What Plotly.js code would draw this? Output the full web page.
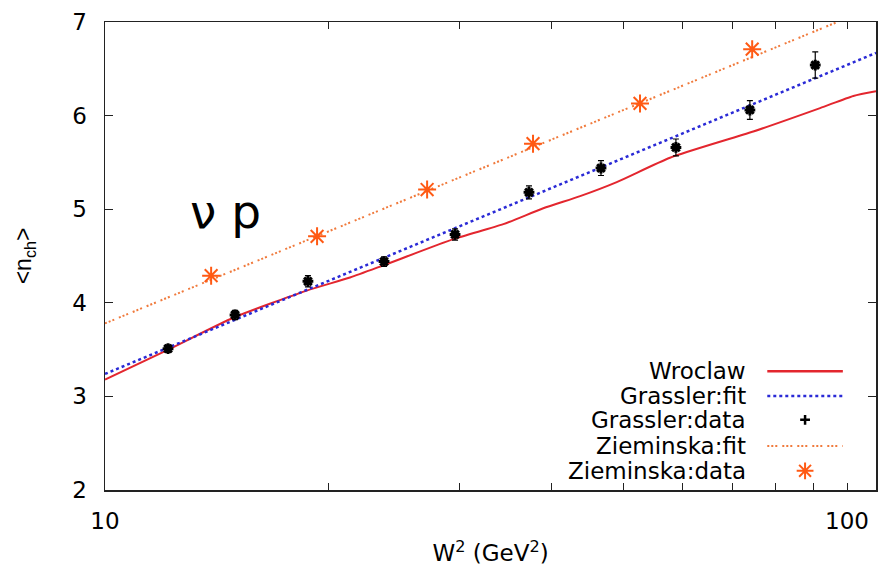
<!DOCTYPE html>
<html>
<head>
<meta charset="utf-8">
<script src="https://cdn.plot.ly/plotly-3.0.1.min.js"></script>
<style>html,body{margin:0;padding:0;background:#fff;}#chart{width:878px;height:571px;}</style>
</head>
<body>
<div id="chart"></div>
<script>
// ---- data ----
const wroclawW2 = [10.0, 12.17, 14.89, 18.70, 21.39, 23.72, 29.48, 34.42, 38.96, 43.68, 48.94, 57.73, 74.76, 91.97, 101.97, 109.4];
const wroclawN  = [3.18, 3.50, 3.84, 4.13, 4.27, 4.40, 4.68, 4.84, 5.01, 5.14, 5.29, 5.55, 5.83, 6.08, 6.21, 6.26];

const grasslerFitW2 = [10.0, 109.4];
const grasslerFitN  = [3.24, 6.67];

const grasslerW2  = [12.16, 14.97, 18.77, 23.77, 29.63, 37.27, 46.6, 58.8, 73.97, 90.6];
const grasslerN   = [3.51, 3.87, 4.23, 4.44, 4.73, 5.18, 5.44, 5.66, 6.06, 6.54];
const grasslerErr = [0.04, 0.05, 0.06, 0.05, 0.06, 0.07, 0.08, 0.09, 0.10, 0.14];

const zieminskaFitW2 = [10.0, 109.4];
const zieminskaFitN  = [3.78, 7.17];

const zieminskaW2 = [13.9, 19.31, 27.17, 37.74, 52.6, 74.5];
const zieminskaN  = [4.29, 4.71, 5.21, 5.70, 6.13, 6.71];

const xTickVals   = [10, 20, 30, 40, 50, 60, 70, 80, 90, 100];
const xTickText   = ['10', '', '', '', '', '', '', '', '', '100'];
const yTickVals   = [2, 3, 4, 5, 6, 7];

const legendNames = ['Wroclaw', 'Grassler:fit', 'Grassler:data', 'Zieminska:fit', 'Zieminska:data'];

// ---- styles ----
const FONT = 'DejaVu Sans, Liberation Sans, Arial, sans-serif';
const FONT2 = 'Liberation Sans, Arial, Helvetica, sans-serif';
const RED = '#e3262e', BLUE = '#2a2ad6', BLACK = '#000000', ORANGE = '#ff5a14', ORANGEFIT = '#f07a3c';
const ZDASH = '2px,2px,2px,2px,2px,5px';

const traces = [
  {x: wroclawW2, y: wroclawN, mode: 'lines', line: {color: RED, width: 2, shape: 'spline', smoothing: 0.6}, showlegend: false},
  {x: grasslerFitW2, y: grasslerFitN, mode: 'lines', line: {color: BLUE, width: 2.5, dash: 'dot'}, showlegend: false},
  {x: zieminskaFitW2, y: zieminskaFitN, mode: 'lines', line: {color: ORANGEFIT, width: 2, dash: ZDASH}, showlegend: false},
  {x: grasslerW2, y: grasslerN, mode: 'markers',
   error_y: {type: 'data', array: grasslerErr, visible: true, color: BLACK, thickness: 1.2, width: 3},
   marker: {symbol: 'asterisk-open', size: 9, color: BLACK, line: {color: BLACK, width: 3}}, showlegend: false},
  {x: zieminskaW2, y: zieminskaN, mode: 'markers',
   marker: {symbol: 'asterisk-open', size: 15, color: ORANGE, line: {color: ORANGE, width: 2}}, showlegend: false}
];

// ---- custom legend (text left of sample, as in the reference) ----
const legX0 = 0.859, legX1 = 0.957, legXm = 0.908, legTextX = 0.834;
const legY = [0.254, 0.201, 0.150, 0.094, 0.041];
const sampleStyles = [
  {mode: 'lines', line: {color: RED, width: 2.5}},
  {mode: 'lines', line: {color: BLUE, width: 2.5, dash: 'dot'}},
  {mode: 'markers', marker: {symbol: 'cross-thin-open', size: 7, color: BLACK, line: {color: BLACK, width: 2.5}}},
  {mode: 'lines', line: {color: ORANGEFIT, width: 2, dash: ZDASH}},
  {mode: 'markers', marker: {symbol: 'asterisk-open', size: 14, color: ORANGE, line: {color: ORANGE, width: 2}}}
];
const annotations = [];
legendNames.forEach((name, i) => {
  const s = sampleStyles[i];
  const t = Object.assign({xaxis: 'x2', yaxis: 'y2', showlegend: false}, s);
  if (s.mode === 'lines') { t.x = [legX0, legX1]; t.y = [legY[i], legY[i]]; }
  else { t.x = [legXm]; t.y = [legY[i]]; }
  traces.push(t);
  annotations.push({xref: 'paper', yref: 'paper', x: legTextX, y: legY[i], xanchor: 'right', yanchor: 'middle',
    text: name, showarrow: false, font: {family: FONT, size: 23, color: '#000'}});
});
annotations.push({xref: 'paper', yref: 'paper', x: 0.108, y: 0.596, xanchor: 'left', yanchor: 'middle',
  text: 'ν p', showarrow: false, font: {family: FONT, size: 47, color: '#000'}});

const layout = {
  width: 878, height: 571,
  margin: {l: 105, r: 2, t: 22, b: 81},
  paper_bgcolor: '#fff', plot_bgcolor: '#fff',
  showlegend: false,
  font: {family: FONT, color: '#000'},
  xaxis: {
    type: 'log', range: [1, 2.039],
    tickvals: xTickVals, ticktext: xTickText,
    ticks: 'inside', ticklen: 7, tickwidth: 1, tickcolor: '#222',
    mirror: 'ticks', showline: true, linecolor: '#222', linewidth: 1.5,
    showgrid: false, zeroline: false,
    tickfont: {family: FONT, size: 23, color: '#000'},
    ticklabelstandoff: 10,
    title: {text: 'W<sup>2</sup> (GeV<sup>2</sup>)', font: {family: FONT, size: 23, color: '#000'}, standoff: 12}
  },
  yaxis: {
    range: [2, 7], tickvals: yTickVals,
    ticks: 'inside', ticklen: 8, tickwidth: 1, tickcolor: '#222',
    mirror: 'ticks', showline: true, linecolor: '#222', linewidth: 1.5,
    showgrid: false, zeroline: false,
    tickfont: {family: FONT, size: 23, color: '#000'},
    ticklabelstandoff: 12,
    title: {text: '&lt;n<sub>ch</sub>&gt;', font: {family: FONT2, size: 23, color: '#000'}, standoff: 34}
  },
  xaxis2: {overlaying: 'x', range: [0, 1], visible: false, fixedrange: true},
  yaxis2: {overlaying: 'y', range: [0, 1], visible: false, fixedrange: true},
  annotations: annotations
};

Plotly.newPlot('chart', traces, layout, {displayModeBar: false, staticPlot: true});
</script>
</body>
</html>
